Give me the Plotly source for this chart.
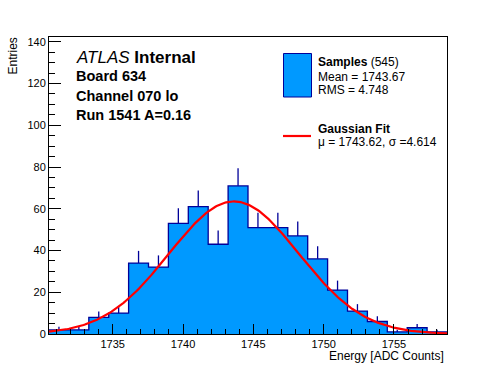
import numpy as np
import plotly.graph_objects as go

# ---------------- data ----------------
HIST_LOW = 1730.47
HIST_HIGH = 1758.77
bin_counts = [2, 2, 8, 10, 34, 32, 53, 61, 43, 71,
              51, 51, 47, 36, 21, 11, 6, 1, 3, 1]
N_ENTRIES = 545
MEAN = 1743.67
RMS = 4.748
FIT_MU = 1743.62
FIT_SIGMA = 4.614
FIT_AMP = 63.5
y_tick_vals = [0, 20, 40, 60, 80, 100, 120, 140]
x_tick_vals = [1735, 1740, 1745, 1750, 1755]
label_lines = ["Board 634", "Channel 070 lo", "Run 1541 A=0.16"]

# ---------------- derived ----------------
n_bins = len(bin_counts)
bw = (HIST_HIGH - HIST_LOW) / n_bins
edges = HIST_LOW + bw * np.arange(n_bins + 1)
centers = 0.5 * (edges[:-1] + edges[1:])
counts = np.array(bin_counts, dtype=float)
errs = np.sqrt(counts)

FILL = "#0099ff"
NAVY = "#000099"
FONT = "Liberation Sans, Arial, Helvetica, sans-serif"

fig = go.Figure()

# filled bars (no outline)
fig.add_trace(go.Bar(x=centers, y=counts, width=bw, marker=dict(color=FILL, line=dict(width=0)),
                     hoverinfo="skip", showlegend=False))
# step outline
step_x = list(edges)
step_y = list(counts) + [counts[-1]]
fig.add_trace(go.Scatter(x=step_x, y=step_y, mode="lines", line=dict(shape="hv", color=NAVY, width=1.3),
                         showlegend=False, hoverinfo="skip"))
# error bars (upper part only visible)
fig.add_trace(go.Scatter(x=centers, y=counts, mode="markers", marker=dict(size=0.1, color=NAVY, opacity=0),
                         error_y=dict(type="data", symmetric=False, array=errs, arrayminus=np.zeros_like(errs),
                                      color=NAVY, thickness=1.3, width=0),
                         showlegend=False, hoverinfo="skip"))
# gaussian fit curve
xf = np.linspace(HIST_LOW, HIST_HIGH, 300)
yf = FIT_AMP * np.exp(-0.5 * ((xf - FIT_MU) / FIT_SIGMA) ** 2)
fig.add_trace(go.Scatter(x=xf, y=yf, mode="lines", line=dict(color="#ff0000", width=2.2),
                         showlegend=False, hoverinfo="skip"))

# ---------------- layout helpers ----------------
L, R, T, B = 49, 447, 37, 334
W, H = 496, 372


def px(x):
    return (x - L) / (R - L)


def py(y):
    return (B - y) / (B - T)


ann = []


def text(x, y, s, size, xanchor="left", yanchor="middle", angle=0):
    ann.append(dict(x=px(x), y=py(y), xref="paper", yref="paper", text=s, showarrow=False,
                    xanchor=xanchor, yanchor=yanchor, textangle=angle,
                    font=dict(family=FONT, size=size, color="black")))


text(74, 57, "<i>ATLAS</i> <b>Internal</b>", 17)
for i, line in enumerate(label_lines):
    text(74, 76 + 19.5 * i, "<b>%s</b>" % line, 14.5)

# legend
text(316, 62, "<b>Samples</b> (%d)" % N_ENTRIES, 12)
text(316, 77, "Mean = %.2f" % MEAN, 12)
text(316, 90, "RMS = %.3f" % RMS, 12)
text(316, 129, "<b>Gaussian Fit</b>", 12)
text(316, 142, "\u03bc = %.2f, \u03c3 =%.3f" % (FIT_MU, FIT_SIGMA), 12)

# axis titles
text(446, 356, "Energy [ADC Counts]", 12, xanchor="right")
text(13, 36, "Entries", 12, xanchor="center", yanchor="top", angle=-90)

shapes = [
    dict(type="rect", xref="paper", yref="paper", x0=px(283.5), x1=px(311.5), y0=py(97), y1=py(53.5),
         fillcolor=FILL, line=dict(color=NAVY, width=1)),
    dict(type="line", xref="paper", yref="paper", x0=px(283), x1=px(311), y0=py(136), y1=py(136),
         line=dict(color="#ff0000", width=2.2)),
]

fig.update_layout(
    width=W, height=H,
    margin=dict(l=L, r=W - R, t=T, b=H - B, pad=0),
    paper_bgcolor="white", plot_bgcolor="white",
    bargap=0, showlegend=False,
    annotations=ann, shapes=shapes,
    font=dict(family=FONT, size=11, color="black"),
)
fig.update_xaxes(range=[HIST_LOW, HIST_HIGH], tickvals=x_tick_vals, ticks="inside", ticklen=10,
                 tickcolor="black", tickwidth=1, showgrid=False, zeroline=False,
                 showline=True, linecolor="black", linewidth=1, mirror=True,
                 tickfont=dict(family=FONT, size=11, color="black"),
                 minor=dict(ticks="inside", dtick=1, tick0=1735, ticklen=5, tickcolor="black", showgrid=False))
fig.update_yaxes(range=[0, 142.3], tickvals=y_tick_vals, ticks="inside", ticklen=12,
                 tickcolor="black", tickwidth=1, showgrid=False, zeroline=False,
                 showline=True, linecolor="black", linewidth=1, mirror=True,
                 tickfont=dict(family=FONT, size=11, color="black"),
                 minor=dict(ticks="inside", dtick=5, tick0=0, ticklen=6, tickcolor="black", showgrid=False))

fig.write_html("out.html", config={"displayModeBar": False, "staticPlot": True},
               post_script="document.body.style.margin='0px';document.body.style.overflow='hidden';")
